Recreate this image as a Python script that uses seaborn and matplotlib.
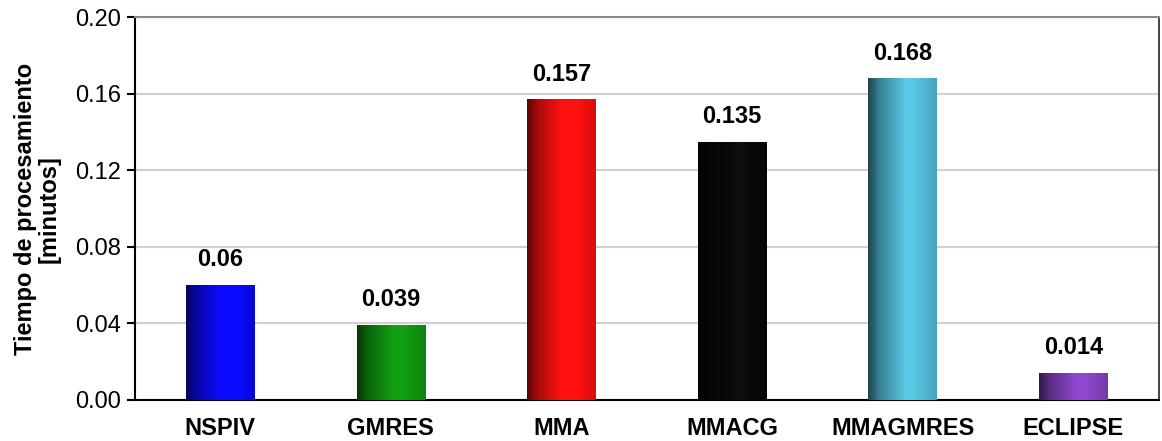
import numpy as np
import pandas as pd
import matplotlib
matplotlib.use("Agg")
import matplotlib.pyplot as plt
import seaborn as sns
from matplotlib.colors import to_rgb

# Data
metodos = ["NSPIV", "GMRES", "MMA", "MMACG", "MMAGMRES", "ECLIPSE"]
tiempos = [0.06, 0.039, 0.157, 0.135, 0.168, 0.014]
etiquetas = ["0.06", "0.039", "0.157", "0.135", "0.168", "0.014"]
colores = ["#0a0aff", "#109a10", "#ff1010", "#080808", "#55c0dc", "#8a45c8"]

df = pd.DataFrame({"metodo": metodos, "tiempo": tiempos})

sns.set_style("white")
plt.rcParams["font.family"] = ["Liberation Sans", "DejaVu Sans"]
plt.rcParams["text.color"] = "black"
plt.rcParams["axes.labelcolor"] = "black"
plt.rcParams["xtick.color"] = "black"
plt.rcParams["ytick.color"] = "black"

fig, ax = plt.subplots(figsize=(11.62, 4.41), dpi=100)
fig.subplots_adjust(left=0.116, right=0.997, bottom=0.093, top=0.961)

sns.barplot(data=df, x="metodo", y="tiempo", hue="metodo", palette=colores,
            legend=False, width=0.4, ax=ax, edgecolor="none", saturation=1)

# sombreado tipo cilindro en cada barra
perfil_x = np.linspace(0, 1, 200)
for bar, c in zip(ax.patches, colores):
    base = np.array(to_rgb(c))
    # borde izquierdo oscuro -> centro brillante -> borde derecho algo más oscuro
    fac = np.interp(perfil_x, [0, 0.15, 0.55, 0.65, 1.0], [0.35, 0.65, 1.05, 1.05, 0.85])
    img = np.clip(base[None, :] * fac[:, None], 0, 1)
    if c == "#080808":
        img = np.clip(img + 0.03 * np.exp(-((perfil_x - 0.6) / 0.1) ** 2)[:, None], 0, 1)
    img = img[None, :, :]
    x0, y0 = bar.get_x(), bar.get_y()
    w, h = bar.get_width(), bar.get_height()
    im = ax.imshow(img, extent=[x0, x0 + w, y0, y0 + h], aspect="auto",
                   interpolation="bicubic", zorder=3)
    im.set_clip_path(bar)

for cont, txt in zip(ax.containers, etiquetas):
    ax.bar_label(cont, labels=[txt], padding=10, fontsize=17, fontweight="bold")

ax.set_ylim(0, 0.20)
ax.set_xlim(-0.5, len(metodos) - 0.5)
yt = np.arange(0, 0.201, 0.04)
ax.set_yticks(yt)
ax.set_yticklabels([f"{v:.2f}" for v in yt], fontsize=17)
ax.yaxis.grid(True, color="#d0d0d0", linewidth=1.5)
ax.set_axisbelow(True)

# marcas entre categorías
ax.set_xticks(np.arange(len(metodos)))
ax.set_xticklabels(metodos, fontsize=17, fontweight="bold")
ax.set_xticks(np.arange(-0.5, len(metodos)), minor=True)
ax.tick_params(axis="x", which="major", length=0, pad=12)
ax.tick_params(axis="x", which="minor", length=6, width=1.5, direction="out")
ax.tick_params(axis="y", length=6, width=1.5, direction="out", pad=4, left=True)

ax.set_xlabel("")
ax.set_ylabel("Tiempo de procesamiento\n[minutos]", fontsize=17, fontweight="bold",
              linespacing=1.05, labelpad=10)

for lado in ["left", "bottom"]:
    ax.spines[lado].set_color("black")
    ax.spines[lado].set_linewidth(1.5)
ax.spines["right"].set_color("#222222")
ax.spines["right"].set_linewidth(1.2)
ax.spines["top"].set_color("#888888")
ax.spines["top"].set_linewidth(1.5)

fig.savefig("out.png", dpi=100)
